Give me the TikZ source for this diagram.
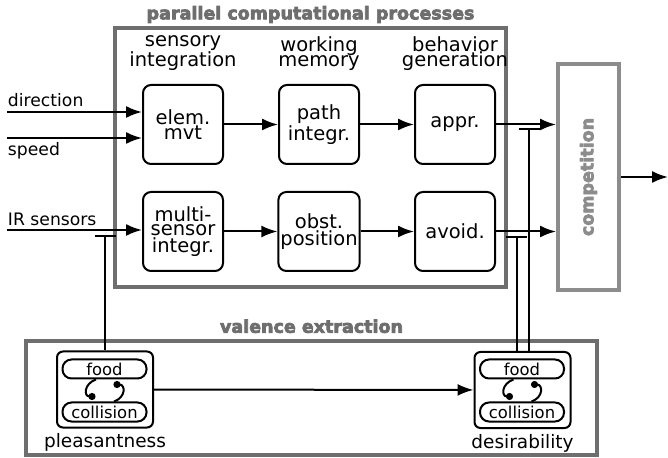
\documentclass[tikz,border=0pt]{standalone}
\usepackage{fontspec}
\setmainfont{DejaVu Sans}
\newfontfamily\heavyfont{DejaVu Sans}[BoldFeatures={FakeBold=4}]
\usetikzlibrary{arrows.meta,positioning}
\definecolor{framegray}{gray}{0.43}
\definecolor{compgray}{gray}{0.55}

\begin{document}
\begin{tikzpicture}[>={Latex[length=8pt,width=6pt]},x=0.5pt,y=-0.5pt,line width=1pt,
    font=\fontsize{9.25pt}{8pt}\selectfont,
    proc/.style={draw,rounded corners=4pt,minimum width=40pt,minimum height=39.5pt,align=center,inner sep=1pt,
      font=\fontsize{9.75pt}{7.2pt}\selectfont},
    colhead/.style={align=center,inner sep=0pt,font=\fontsize{9.75pt}{7.8pt}\selectfont},
    inlabel/.style={inner sep=0pt,font=\fontsize{8.6pt}{9pt}\selectfont},
    grptitle/.style={inner sep=0pt,text=framegray,font=\heavyfont\bfseries\fontsize{8.75pt}{10pt}\selectfont},
    grpframe/.style={draw=framegray,line width=2pt},
    compbox/.style={draw=compgray,line width=2pt,text=compgray,minimum width=113pt,minimum height=30.5pt,
      font=\heavyfont\bfseries\fontsize{8.75pt}{10pt}\selectfont},
    valbox/.style={draw,rounded corners=3pt,minimum width=48pt,minimum height=38pt},
    pill/.style={draw,rounded corners=4.5pt,minimum width=42pt,minimum height=9.5pt,inner sep=0pt,
      font=\fontsize{8.2pt}{9pt}\selectfont},
    inh/.style={-{Bar[width=10.5pt]}},
    cycdot/.style={-{Circle[length=3.5pt]}}]
    \useasboundingbox (0,0) rectangle (668,458);

    % parallel computational processes
    \draw[grpframe] (115,28) rectangle (506,287);
    \node[grptitle,anchor=south] (partitle) at (310.5,24) {parallel computational processes};

    \node[proc] (elem) at (183,124.5) {elem.\\mvt};
    \node[proc,right=27pt of elem] (path) {path\\integr.};
    \node[proc,right=27pt of path] (appr) {appr.};
    \node[proc,below=13pt of elem] (multi) {multi-\\sensor\\integr.};
    \node[proc,below=13pt of path] (obst) {obst.\\position};
    \node[proc,below=13pt of appr] (avoid) {avoid.};

    \node[colhead,above=6pt of elem] (senshead) {sensory\\integration};
    \node[colhead,above=6pt of path] (memhead) {working\\memory};
    \node[colhead,above=6pt of appr] (behhead) {behavior\\generation};

    \draw[->] (elem) -- (path);
    \draw[->] (path) -- (appr);
    \draw[->] (multi) -- (obst);
    \draw[->] (obst) -- (avoid);

    % inputs
    \coordinate (dirin) at (7,112);
    \coordinate (spdin) at (7,138);
    \coordinate (irin) at (7,230);
    \draw[->] (dirin) node[inlabel,anchor=south west,yshift=2pt] (dirlabel) {direction} -- (dirin -| elem.west);
    \draw[->] (spdin) node[inlabel,anchor=north west,yshift=-1.5pt] (spdlabel) {speed} -- (spdin -| elem.west);
    \draw[->] (irin) node[inlabel,anchor=south west,yshift=1.5pt] (irlabel) {IR sensors} -- (irin -| multi.west);

    % competition
    \node[compbox,rotate=90] (comp) at (588.5,177) {competition};
    \coordinate (out) at (668,177);
    \draw[->] (appr.east) -- (appr.east -| comp.north);
    \draw[->] (avoid.east) -- (avoid.east -| comp.north);
    \draw[->] (comp.south) -- (out);

    % valence extraction
    \draw[grpframe] (26,341) rectangle (597,455);
    \node[grptitle,anchor=south] (valtitle) at (311.5,334) {valence extraction};

    \node[valbox] (pbox) at (105,389.5) {};
    \node[pill] (pfood) at (104.5,369) {food};
    \node[pill] (pcoll) at (104.5,412) {collision};
    \node[inner sep=0pt,below=2pt of pbox] (plabel) {pleasantness};
    \draw[cycdot] ([xshift=-4.25pt]pfood.south) .. controls +(-12,4) and +(-12,0) .. ([xshift=-4.5pt,yshift=2.5pt]pcoll.north);
    \draw[cycdot] ([xshift=4.75pt]pcoll.north) .. controls +(12,-4) and +(12,0) .. ([xshift=4.5pt,yshift=-2.5pt]pfood.south);

    \node[valbox] (dbox) at (522.5,390) {};
    \node[pill] (dfood) at (522,369) {food};
    \node[pill] (dcoll) at (522,412) {collision};
    \node[inner sep=0pt,below=2pt of dbox] (dlabel) {desirability};
    \draw[cycdot] ([xshift=-4.25pt]dfood.south) .. controls +(-12,4) and +(-12,0) .. ([xshift=-4.5pt,yshift=2.5pt]dcoll.north);
    \draw[cycdot] ([xshift=4.75pt]dcoll.north) .. controls +(12,-4) and +(12,0) .. ([xshift=4.5pt,yshift=-2.5pt]dfood.south);

    \draw[->] (pbox) -- (dbox);

    % inhibition
    \coordinate (irinh) at (105,235);
    \coordinate (avinh) at (516.5,236);
    \coordinate (apinh) at (529,128);
    \draw[inh] (pbox.north) -- (irinh);
    \draw[inh] (avinh |- dbox.north) -- (avinh);
    \draw[inh] (apinh |- dbox.north) -- (apinh);
  \end{tikzpicture}
\end{document}
